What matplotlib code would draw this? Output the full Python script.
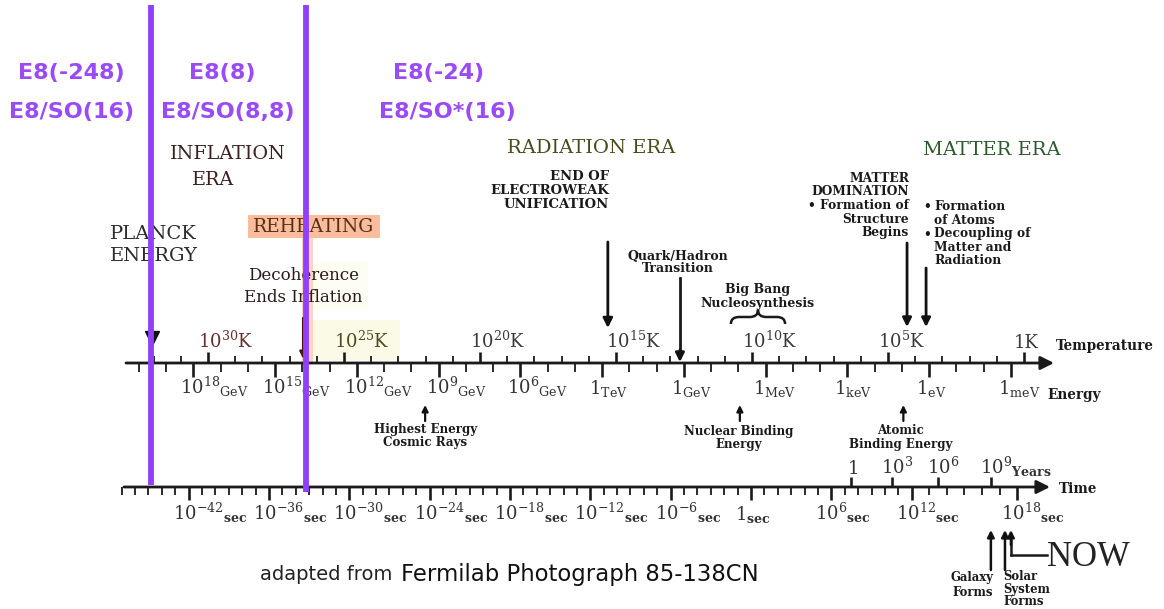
import numpy as np
import matplotlib
matplotlib.use("Agg")
import matplotlib.pyplot as plt
from matplotlib import transforms
from matplotlib.patches import Rectangle, PathPatch
from matplotlib.path import Path

plt.rcParams['mathtext.fontset'] = 'dejavuserif'
SERIF = 'DejaVu Serif'
SANS = 'DejaVu Sans'

# ---------------- data ----------------
temp_exp = [30, 25, 20, 15, 10, 5, 0]                       # log10(T / K)
temp_labels = [r"$10^{30}$K", r"$10^{25}$K", r"$10^{20}$K", r"$10^{15}$K",
               r"$10^{10}$K", r"$10^{5}$K", "1K"]
energy_exp = [18, 15, 12, 9, 6, 3, 0, -3, -6, -9, -12]      # log10(E / GeV)
energy_labels = [r"$10^{18}{}_{\mathrm{GeV}}$", r"$10^{15}{}_{\mathrm{GeV}}$",
                 r"$10^{12}{}_{\mathrm{GeV}}$", r"$10^{9}{}_{\mathrm{GeV}}$",
                 r"$10^{6}{}_{\mathrm{GeV}}$", r"$1{}_{\mathrm{TeV}}$",
                 r"$1{}_{\mathrm{GeV}}$", r"$1{}_{\mathrm{MeV}}$",
                 r"$1{}_{\mathrm{keV}}$", r"$1{}_{\mathrm{eV}}$",
                 r"$1{}_{\mathrm{meV}}$"]
time_exp = [-42, -36, -30, -24, -18, -12, -6, 0, 6, 12, 18]  # log10(t / s)
time_labels = [r"$10^{-42}{}_{\mathbf{sec}}$", r"$10^{-36}{}_{\mathbf{sec}}$",
               r"$10^{-30}{}_{\mathbf{sec}}$", r"$10^{-24}{}_{\mathbf{sec}}$",
               r"$10^{-18}{}_{\mathbf{sec}}$", r"$10^{-12}{}_{\mathbf{sec}}$",
               r"$10^{-6}{}_{\mathbf{sec}}$", r"$1{}_{\mathbf{sec}}$",
               r"$10^{6}{}_{\mathbf{sec}}$", r"$10^{12}{}_{\mathbf{sec}}$",
               r"$10^{18}{}_{\mathbf{sec}}$"]
year_exp = [0, 3, 6, 9]                                       # log10(t / yr)
year_labels = ["1", r"$10^{3}$", r"$10^{6}$", r"$10^{9}{}_{\mathbf{Years}}$"]
LOG_SEC_PER_YEAR = 7.5

temp_minor = list(range(0, 33))
energy_minor = list(range(-12, 21))
time_minor = list(range(-47, 19))

e8_top = ["E8(-248)", "E8(8)", "E8(-24)"]
e8_bottom = ["E8/SO(16)", "E8/SO(8,8)", "E8/SO*(16)"]
e8_boundaries_T = [32.1, 26.4]          # purple epoch boundaries (log10 T)

planck_T = 32.05
decoherence_T = 26.5
electroweak_T = 15.3
matter_dom_T = 4.3
atoms_T = 3.6
quark_hadron_E = 0.15
bbn_E = (-1.72, -3.71)
cosmic_ray_E = 9.5
nuclear_binding_E = -2.05
atomic_binding_E = -8.05
galaxy_t = 16.5
solar_t = 17.3
now_t = 17.64

# ---------------- layout ----------------
W, H = 1164, 609
fig = plt.figure(figsize=(W / 100, H / 100), dpi=100)


def make_ax(z):
    a = fig.add_axes([0, 0, 1, 1], zorder=z)
    a.set_ylim(H, 0)
    a.axis('off')
    a.patch.set_alpha(0)
    return a


ax = make_ax(1)
ax.set_xlim(0, W)

axT = make_ax(2)
T0, TS = 1024.0, 27.2
axT.set_xlim(T0 / TS, (T0 - W) / TS)

axE = make_ax(2)
E0, ES = 684.0, 27.25
axE.set_xlim(E0 / ES, (E0 - W) / ES)

axt = make_ax(2)
knots_e = [-60, 12, 30]
knots_px = [751 - 13.39 * 60, 751 + 13.39 * 12, 751 + 13.39 * 12 + 17.6 * 18]


def t_fwd(e):
    return np.interp(e, knots_e, knots_px)


def t_inv(p):
    return np.interp(p, knots_px, knots_e)


axt.set_xscale('function', functions=(t_fwd, t_inv))
axt.set_xlim(t_inv(0), t_inv(W))

axTop = make_ax(6)
axTop.set_xlim(T0 / TS, (T0 - W) / TS)


def off(a, dx):
    return transforms.offset_copy(a.transData, fig=fig, x=dx, y=0, units='dots')


def arrow(a, x, y_tail, y_tip, lw=2.0, ms=13, color='#111111'):
    a.annotate('', xy=(x, y_tip), xytext=(x, y_tail), xycoords='data',
               arrowprops=dict(arrowstyle='-|>', lw=lw, color=color,
                               mutation_scale=ms, shrinkA=0, shrinkB=0))


def rows(a, x, y0, dy, texts, dx=0, **kw):
    for i, s in enumerate(texts):
        a.text(x, y0 + i * dy, s, transform=off(a, dx), **kw)


INK = '#1a1a1a'
yTE = 363
yt = 487

# ---------- background tints ----------
ax.add_patch(Rectangle((312, 320), 88, 40, color='#fafae6', lw=0, zorder=0))
ax.add_patch(Rectangle((308, 262), 60, 48, color='#fdfdf3', lw=0, zorder=0))
ax.add_patch(Rectangle((302, 215), 11, 147, color='#fbd3c0', lw=0, zorder=0))
ax.add_patch(Rectangle((248, 215), 132, 23, color='#f9bc9d', lw=0, zorder=0))

# ---------- Temperature / Energy ruler ----------
ax.annotate('', xy=(1054, yTE), xytext=(126, yTE),
            arrowprops=dict(arrowstyle='-|>', lw=2.0, color=INK,
                            mutation_scale=20, shrinkA=0, shrinkB=0))
tmaj = [e for e in temp_minor if e % 5 == 0]
tmin = [e for e in temp_minor if e % 5 != 0]
axT.vlines(tmin, yTE - 7, yTE, color=INK, lw=1.3)
axT.vlines(tmaj, yTE - 11, yTE, color=INK, lw=1.9)
emaj = [e for e in energy_minor if e % 3 == 0]
emin = [e for e in energy_minor if e % 3 != 0]
axE.vlines(emin, yTE, yTE + 9, color=INK, lw=1.3)
axE.vlines(emaj, yTE, yTE + 14, color=INK, lw=1.9)

tcolors = ['#6b2d2d', '#4e4b20'] + ['#3a3a3a'] * 5
for e, lab, c in zip(temp_exp, temp_labels, tcolors):
    axT.text(e, yTE - 15, lab, transform=off(axT, -10), ha='left',
             va='baseline', fontsize=13, family=SERIF, color=c)
for e, lab in zip(energy_exp, energy_labels):
    axE.text(e, yTE + 31, lab, transform=off(axE, -13), ha='left',
             va='baseline', fontsize=13, family=SERIF, color='#333333')
ax.text(1056, 346, "Temperature", ha='left', va='center', fontsize=9.8,
        family=SERIF, weight='bold', color=INK)
ax.text(1047, 395, "Energy", ha='left', va='center', fontsize=9.8,
        family=SERIF, weight='bold', color=INK)

# ---------- Time ruler ----------
ax.annotate('', xy=(1050, yt), xytext=(124, yt),
            arrowprops=dict(arrowstyle='-|>', lw=2.0, color=INK,
                            mutation_scale=20, shrinkA=0, shrinkB=0))
smaj = [e for e in time_minor if e % 6 == 0]
smin = [e for e in time_minor if e % 6 != 0]
axt.vlines(smin, yt, yt + 8, color=INK, lw=1.3)
axt.vlines(smaj, yt, yt + 13, color=INK, lw=1.9)
for e, lab in zip(time_exp, time_labels):
    axt.text(e, yt + 33, lab, transform=off(axt, -16), ha='left',
             va='baseline', fontsize=13, family=SERIF, color='#333333')
yx = [e + LOG_SEC_PER_YEAR for e in year_exp]
axt.vlines(yx, yt - 10, yt, color=INK, lw=1.9)
for x, lab in zip(yx, year_labels):
    axt.text(x, yt - 13, lab, transform=off(axt, -4 if lab == "1" else -11),
             ha='left', va='baseline', fontsize=13, family=SERIF, color='#333333')
ax.text(1059, 489, "Time", ha='left', va='center', fontsize=9.8,
        family=SERIF, weight='bold', color=INK)

# ---------- eras ----------
ax.text(228, 154, "INFLATION", ha='center', va='center', fontsize=13.8,
        family=SERIF, color='#3a1f1f')
ax.text(213, 180, "ERA", ha='center', va='center', fontsize=13.8,
        family=SERIF, color='#3a1f1f')
ax.text(591, 148, "RADIATION ERA", ha='center', va='center', fontsize=14,
        family=SERIF, color='#4a4a1c')
ax.text(992, 150, "MATTER ERA", ha='center', va='center', fontsize=14,
        family=SERIF, color='#2b5a2b')

# ---------- Planck ----------
axT.plot([planck_T, planck_T], [133, 222], color='#111111', lw=1.3)
axT.plot([planck_T, planck_T], [280, 307], color='#b09a9a', lw=1.3)
axT.plot([planck_T], [338], marker='v', ms=10, color='#111111', lw=0)
ax.text(110, 234, "PLANCK", ha='left', va='center', fontsize=14,
        family=SERIF, color='#2a2a2a')
ax.text(110, 256, "ENERGY", ha='left', va='center', fontsize=14,
        family=SERIF, color='#2a2a2a')

# ---------- reheating / decoherence ----------
ax.text(314, 227, "REHEATING", ha='center', va='center', fontsize=13.5,
        family=SERIF, color='#5a2e14')
rows(axT, decoherence_T, 275, 23, ["Decoherence", "Ends Inflation"],
     ha='center', va='center', fontsize=12, family=SERIF, color='#2a1a1a')
arrow(axT, decoherence_T, 318, 359, lw=1.8, ms=10, color='#4a1414')

# ---------- radiation era events ----------
rows(axT, electroweak_T, 177, 13.7, ["END OF", "ELECTROWEAK", "UNIFICATION"],
     dx=1, ha='right', va='center', fontsize=9.5, family=SERIF,
     weight='bold', color=INK)
arrow(axT, electroweak_T, 242, 328, lw=2.0, ms=14)

rows(axE, quark_hadron_E, 256, 12.8, ["Quark/Hadron", "Transition"],
     dx=-2, ha='center', va='center', fontsize=9.0, family=SERIF,
     weight='bold', color=INK)
axE.plot([quark_hadron_E] * 2, [278, 352], color=INK, lw=2.0)
arrow(axE, quark_hadron_E, 350, 362, lw=2.0, ms=13)

bbn_mid = (bbn_E[0] + bbn_E[1]) / 2
rows(axE, bbn_mid, 290, 13.5, ["Big Bang", "Nucleosynthesis"],
     ha='center', va='center', fontsize=9.0, family=SERIF,
     weight='bold', color=INK)
r = 0.3
x0, x1 = bbn_E
ye, yb, ytip = 324, 317, 310
verts = [(x0, ye), (x0, yb), (x0 - r, yb), (bbn_mid + r, yb), (bbn_mid, yb),
         (bbn_mid, ytip), (bbn_mid, yb), (bbn_mid - r, yb), (x1 + r, yb),
         (x1, yb), (x1, ye)]
codes = [Path.MOVETO, Path.CURVE3, Path.CURVE3, Path.LINETO, Path.CURVE3,
         Path.CURVE3, Path.CURVE3, Path.CURVE3, Path.LINETO, Path.CURVE3,
         Path.CURVE3]
axE.add_patch(PathPatch(Path(verts, codes), fill=False, lw=1.8, color=INK))

# ---------- matter era events ----------
rows(axT, matter_dom_T, 178, 13.7,
     ["MATTER", "DOMINATION", "\u2022 Formation of", "Structure", "Begins"],
     dx=2, ha='right', va='center', fontsize=8.8, family=SERIF,
     weight='bold', color=INK)
arrow(axT, matter_dom_T, 243, 327, lw=2.0, ms=13)
rows(axT, atoms_T, 207, 27, ["\u2022", "\u2022"], dx=-3, ha='left',
     va='center', fontsize=8.8, family=SERIF, weight='bold', color=INK)
rows(axT, atoms_T, 207, 13.5,
     ["Formation", "of Atoms", "Decoupling of", "Matter and", "Radiation"],
     dx=8, ha='left', va='center', fontsize=8.8, family=SERIF,
     weight='bold', color=INK)
arrow(axT, atoms_T, 268, 327, lw=2.0, ms=13)

# ---------- below energy axis ----------
rows(axE, cosmic_ray_E, 430, 12.5, ["Highest Energy", "Cosmic Rays"],
     ha='center', va='center', fontsize=8.6, family=SERIF, weight='bold',
     color=INK)
arrow(axE, cosmic_ray_E, 421, 405, lw=1.6, ms=9)
rows(axE, nuclear_binding_E, 431, 13.5, ["Nuclear Binding", "Energy"],
     dx=-1, ha='center', va='center', fontsize=8.6, family=SERIF,
     weight='bold', color=INK)
arrow(axE, nuclear_binding_E, 421, 405, lw=1.6, ms=9)
rows(axE, atomic_binding_E, 431, 13.5, ["Atomic", "Binding Energy"],
     dx=-3, ha='center', va='center', fontsize=8.6, family=SERIF,
     weight='bold', color=INK)
arrow(axE, atomic_binding_E, 421, 405, lw=1.6, ms=9)

# ---------- below time axis ----------
arrow(axt, galaxy_t, 570, 530, lw=1.8, ms=10)
rows(axt, galaxy_t, 578, 14, ["Galaxy", "Forms"], dx=2, ha='right',
     va='center', fontsize=8.4, family=SERIF, weight='bold', color=INK)
arrow(axt, solar_t, 570, 530, lw=1.8, ms=10)
rows(axt, solar_t, 577, 12.3, ["Solar", "System", "Forms"], dx=-2,
     ha='left', va='center', fontsize=8.4, family=SERIF, weight='bold',
     color=INK)
axt.plot([now_t, now_t], [540, 555], color=INK, lw=1.8)
arrow(axt, now_t, 545, 530, lw=1.8, ms=10)
axt.plot([now_t, t_inv(1047)], [555, 555], color=INK, lw=1.8)
ax.text(1047, 566, "NOW", ha='left', va='baseline', fontsize=25,
        family='Liberation Serif', color='#222222')

# ---------- credit ----------
ax.text(260, 575, "adapted from", ha='left', va='center', fontsize=14,
        family=SANS, color='#222222')
ax.text(401, 575, "Fermilab Photograph 85-138CN", ha='left', va='center',
        fontsize=16.4, family=SANS, color='#111111')

# ---------- E8 overlay ----------
PURPLE_T = '#9a4af6'
for b, yb2 in zip(e8_boundaries_T, [485, 492]):
    axTop.plot([b, b], [5, yb2], color='#9040fa', lw=4.2,
               solid_capstyle='butt')
for x, s in zip([71, 222, 439], e8_top):
    ax.text(x, 73, s, ha='center', va='center', fontsize=16, family=SANS,
            weight='bold', color=PURPLE_T)
for x, s in zip([72, 228, 447], e8_bottom):
    ax.text(x, 112, s, ha='center', va='center', fontsize=16, family=SANS,
            weight='bold', color=PURPLE_T)

fig.savefig('out.png', dpi=100, facecolor='white')
